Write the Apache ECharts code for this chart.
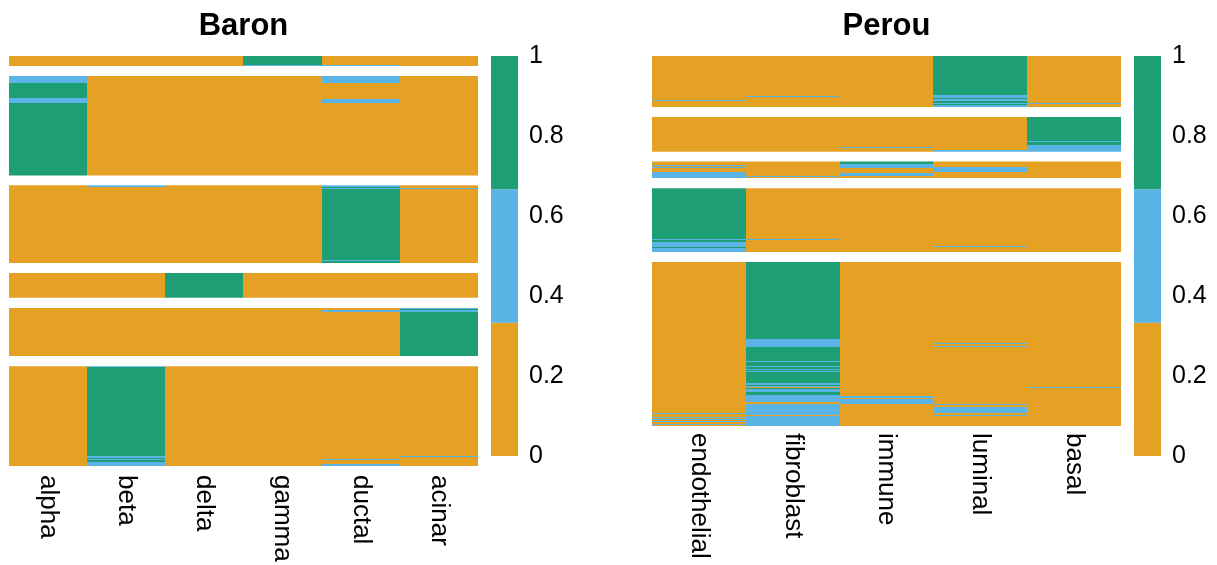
<!DOCTYPE html>
<html><head><meta charset="utf-8">
<script src="https://cdn.jsdelivr.net/npm/echarts@6/dist/echarts.min.js"></script>
<style>html,body{margin:0;padding:0;background:#fff}#c{width:1217px;height:565px}</style>
</head><body><div id="c"></div>
<script>
// ---------------- DATA ----------------
const baronTypes = ['alpha','beta','delta','gamma','ductal','acinar'];
const perouTypes = ['endothelial','fibroblast','immune','luminal','basal'];
const colorBreaks = [0, 1/3, 2/3, 1];
const colorbarTicks = [0, 0.2, 0.4, 0.6, 0.8, 1];

// Each block = cells of one true type, top to bottom.
// One entry per column (predicted type): run-length list of [number of cells, value].
const baronGamma = [
  [[10,0.02]], [[10,0.02]], [[10,0.02]],
  [[9,0.95],[1,0.5]],
  [[9,0.02],[1,0.45]],
  [[10,0.02]]
];
const baronAlpha = [
  [[7,0.5],[15,0.95],[5,0.5],[73,0.95]],
  [[100,0.02]], [[100,0.02]], [[100,0.02]],
  [[7,0.45],[16,0.03],[4,0.45],[73,0.02]],
  [[100,0.02]]
];
const baronDuctal = [
  [[78,0.02]],
  [[2,0.45],[76,0.02]],
  [[78,0.02]], [[78,0.02]],
  [[2,0.5],[1,0.9],[1,0.5],[71,0.95],[1,0.5],[2,0.95]],
  [[3,0.02],[1,0.45],[74,0.02]]
];
const baronDelta = [
  [[25,0.01]], [[25,0.01]], [[25,0.97]], [[25,0.01]], [[25,0.01]], [[25,0.01]]
];
const baronAcinar = [
  [[49,0.01]], [[49,0.01]], [[49,0.01]], [[49,0.01]],
  [[2,0.02],[2,0.45],[45,0.02]],
  [[1,0.5],[1,0.9],[2,0.5],[45,0.95]]
];
const baronBeta = [
  [[100,0.01]],
  [[1,0.5],[89,0.95],[2,0.5],[1,0.9],[1,0.5],[2,0.9],[4,0.5]],
  [[100,0.01]], [[100,0.01]],
  [[93,0.02],[1,0.45],[4,0.02],[2,0.45]],
  [[90,0.02],[1,0.45],[9,0.02]]
];

const perouLuminal = [
  [[44,0.02],[1,0.45],[6,0.02]],
  [[40,0.02],[1,0.45],[10,0.02]],
  [[51,0.01]],
  [[39,0.95],[3,0.5],[1,0.9],[2,0.5],[2,0.9],[1,0.5],[1,0.9],[2,0.5]],
  [[47,0.02],[1,0.45],[3,0.02]]
];
const perouBasal = [
  [[35,0.01]], [[35,0.01]],
  [[30,0.02],[1,0.45],[4,0.02]],
  [[33,0.02],[2,0.45]],
  [[24,0.95],[1,0.5],[3,0.9],[7,0.5]]
];
const perouImmune = [
  [[4,0.05],[1,0.45],[1,0.05],[1,0.4],[4,0.05],[6,0.5]],
  [[15,0.02],[1,0.4],[1,0.02]],
  [[3,0.9],[4,0.5],[5,0.1],[3,0.5],[2,0.1]],
  [[6,0.1],[5,0.5],[6,0.1]],
  [[17,0.02]]
];
const perouEndothelial = [
  [[51,0.95],[1,0.5],[2,0.9],[5,0.5],[1,0.9],[4,0.5]],
  [[51,0.02],[1,0.45],[12,0.02]],
  [[64,0.01]],
  [[58,0.02],[1,0.45],[5,0.02]],
  [[64,0.01]]
];
const perouFibroblast = [
  [[151,0.05],[1,0.45],[3,0.05],[1,0.45],[1,0.05],[1,0.45],[1,0.05],[1,0.45],[2,0.05],[1,0.45],[1,0.05]],
  [[77,0.95],[8,0.5],[14,0.95],[1,0.5],[4,0.9],[1,0.5],[2,0.9],[1,0.5],[1,0.9],[1,0.5],[11,0.95],[2,0.5],[1,0.9],[1,0.5],[1,0.2],[1,0.9],[3,0.5],[3,0.9],[7,0.5],[2,0.2],[11,0.5],[1,0.2],[10,0.5]],
  [[134,0.03],[2,0.45],[1,0.05],[5,0.45],[22,0.03]],
  [[81,0.03],[1,0.45],[2,0.03],[1,0.45],[57,0.03],[1,0.45],[2,0.03],[6,0.45],[2,0.03],[1,0.45],[10,0.03]],
  [[125,0.03],[1,0.45],[38,0.03]]
];

// ---------------- STYLE / LAYOUT ----------------
const FONT = '"Liberation Sans", Arial, Helvetica, sans-serif';
const COLORS = ['#E5A123', '#5BB4E6', '#1E9E75'];
const panels = [
  {title:'Baron', types:baronTypes,
   blocks:[baronGamma, baronAlpha, baronDuctal, baronDelta, baronAcinar, baronBeta],
   left:9, width:469, top:56, bottom:466, labelMargin:9, barLeft:491},
  {title:'Perou', types:perouTypes,
   blocks:[perouLuminal, perouBasal, perouImmune, perouEndothelial, perouFibroblast],
   left:652, width:469, top:56, bottom:426, labelMargin:7, barLeft:1134}
];
const GAP = 9.7;

function cellCount(runs){ return runs.reduce((a,r)=>a+r[0],0); }

function renderCell(params, api){
  const ci = api.value(0), r0 = api.value(1), r1 = api.value(2);
  const w = api.size([1, 0])[0];
  const a = api.coord([ci, r0]), b = api.coord([ci, r1]);
  const x0 = Math.round(a[0] - w/2), x1 = Math.round(a[0] + w/2);
  const y0 = Math.round(Math.min(a[1], b[1])), y1 = Math.round(Math.max(a[1], b[1]));
  return {type:'rect', shape:{x:x0, y:y0, width:x1-x0, height:Math.max(1, y1-y0)},
          style:{fill:api.visual('color')}};
}

const grid=[], xAxis=[], yAxis=[], series=[], cellIdx=[], title=[];
panels.forEach((p, pi) => {
  const counts = p.blocks.map(b => cellCount(b[0]));
  const total = counts.reduce((a,b)=>a+b,0);
  const scale = ((p.bottom - p.top) - GAP*(counts.length-1)) / total;
  let y = p.top;
  p.blocks.forEach((block, bi) => {
    const n = counts[bi];
    const g = grid.length;
    const last = bi === p.blocks.length-1;
    grid.push({left:p.left, width:p.width, top:y, height:n*scale});
    y += n*scale + GAP;
    xAxis.push({type:'category', gridIndex:g, data:p.types, show:last,
      axisLine:{show:false}, axisTick:{show:false}, splitLine:{show:false},
      axisLabel:{show:last, interval:0, rotate:-90, fontSize:26, color:'#000', fontFamily:FONT, margin:p.labelMargin}});
    yAxis.push({type:'value', gridIndex:g, min:0, max:n, inverse:true, show:false, splitLine:{show:false}});
    const data=[];
    block.forEach((runs, ci) => {
      let start = 0;
      runs.forEach(([cnt, v]) => { data.push([ci, start, start+cnt, v]); start += cnt; });
    });
    cellIdx.push(series.length);
    series.push({type:'custom', xAxisIndex:g, yAxisIndex:g, data, renderItem:renderCell,
      encode:{x:0, y:[1,2]}, silent:true, clip:true});
  });
  // colorbar
  const g = grid.length;
  grid.push({left:p.barLeft, width:27, top:p.top, height:400});
  xAxis.push({type:'category', gridIndex:g, data:[''], show:false});
  yAxis.push({type:'value', gridIndex:g, min:colorbarTicks[0], max:colorbarTicks[colorbarTicks.length-1],
    interval:colorbarTicks[1]-colorbarTicks[0], position:'right',
    axisLine:{show:false}, axisTick:{show:false}, splitLine:{show:false},
    axisLabel:{fontSize:25, color:'#000', fontFamily:FONT, margin:11}});
  for (let k=0;k<colorBreaks.length-1;k++){
    series.push({type:'bar', xAxisIndex:g, yAxisIndex:g, stack:'cb'+pi, barWidth:'100%',
      data:[colorBreaks[k+1]-colorBreaks[k]], itemStyle:{color:COLORS[k]}, silent:true});
  }
  title.push({text:p.title, left:p.left + p.width/2, top:11, padding:0, textAlign:'center',
    textStyle:{fontSize:31, fontWeight:'bold', color:'#000', fontFamily:FONT}});
});

const chart = echarts.init(document.getElementById('c'));
chart.setOption({
  animation:false,
  backgroundColor:'#fff',
  title, grid, xAxis, yAxis, series,
  visualMap:{type:'piecewise', show:false, dimension:3, seriesIndex:cellIdx,
    pieces:[
      {gte:colorBreaks[0], lt:colorBreaks[1], color:COLORS[0]},
      {gte:colorBreaks[1], lt:colorBreaks[2], color:COLORS[1]},
      {gte:colorBreaks[2], lte:colorBreaks[3], color:COLORS[2]}
    ]}
});
</script>
</body></html>
